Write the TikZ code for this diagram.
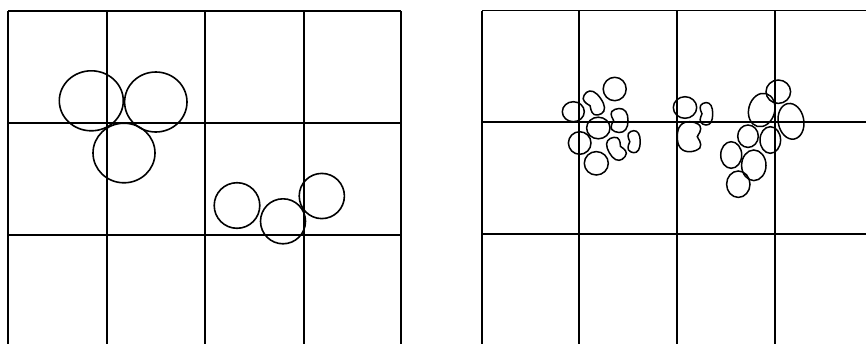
\documentclass[tikz,border=0pt]{standalone}
\usepackage{tikz}

\begin{document}
\begin{tikzpicture}[x=1pt, y=-1pt,
    gridline/.style={line width=1.6pt},
    drop/.style={line width=1.6pt},
    grain/.style={line width=1.5pt},
    bean/.pic={
        \draw[grain] plot[smooth cycle, tension=0.7] coordinates {
            (0,1) (0.75,0.75) (1,0) (0.75,-0.75) (0,-1)
            (-0.8,-0.75) (-0.8,-0.3) (-0.6,0) (-0.8,0.3) (-0.8,0.75)};
    }]
    \useasboundingbox (0,0) rectangle (866,343);
    \clip (0,0) rectangle (866,343);

    % Left grid
    \draw[gridline] (8,11) -- (401,11);
    \draw[gridline] (8,123) -- (401,123);
    \draw[gridline] (8,235) -- (401,235);
    \foreach \gx in {8,107,205,304,401}
        \draw[gridline] (\gx,11) -- (\gx,350);

    % Right grid
    \draw[gridline] (482,10.5) -- (870,10.5);
    \draw[gridline] (482,122) -- (870,122);
    \draw[gridline] (482,234) -- (870,234);
    \foreach \gx in {482,579,677,775}
        \draw[gridline] (\gx,10.5) -- (\gx,350);

    % Large drops
    \draw[drop] (91.3,100.8) ellipse [x radius=32, y radius=30];
    \draw[drop] (155.8,102) ellipse [x radius=31.2, y radius=30];
    \draw[drop] (124,153) ellipse [x radius=31, y radius=29.8];
    \draw[drop] (237,205.5) circle (22.8);
    \draw[drop] (283,221.3) circle (22.5);
    \draw[drop] (321.8,196) circle (22.6);

    % Small grains, first cluster
    \draw[grain] (614.7,89) ellipse [x radius=11.5, y radius=11.7];
    \draw[grain] (573.3,111.7) ellipse [x radius=11, y radius=10];
    \draw[grain] (598.3,128) ellipse [x radius=11.7, y radius=10.8];
    \draw[grain] (579.7,143) circle (11.3);
    \draw[grain] (596.3,163.3) ellipse [x radius=12, y radius=11.7];
    \pic[rotate=35, xscale=8, yscale=13] at (594,103) {bean};
    \pic[xscale=9, yscale=12] at (619,120.5) {bean};
    \pic[xscale=6.5, yscale=11] at (633.7,141.7) {bean};
    \pic[rotate=-150, xscale=8, yscale=12] at (616.3,148.8) {bean};

    % Small grains, second cluster
    \draw[grain] (685,107.5) ellipse [x radius=11.7, y radius=10.8];
    \pic[xscale=6.7, yscale=11.2] at (706,113.8) {bean};
    \pic[rotate=180, xscale=12.5, yscale=15] at (689.8,136.7) {bean};

    % Small grains, third cluster
    \draw[grain] (761.7,110) ellipse [x radius=13, y radius=17, rotate=-15];
    \draw[grain] (778.3,91.7) ellipse [x radius=12.3, y radius=11.7];
    \draw[grain] (791,121.3) ellipse [x radius=12.8, y radius=18, rotate=10];
    \draw[grain] (748,136.2) ellipse [x radius=10.3, y radius=11.2];
    \draw[grain] (770.3,140) ellipse [x radius=10.3, y radius=13.3];
    \draw[grain] (731.2,155) ellipse [x radius=10.5, y radius=13.3];
    \draw[grain] (753.8,165.3) ellipse [x radius=12.2, y radius=15.3];
    \draw[grain] (738.3,184.2) ellipse [x radius=11.7, y radius=13.2];
\end{tikzpicture}
\end{document}
